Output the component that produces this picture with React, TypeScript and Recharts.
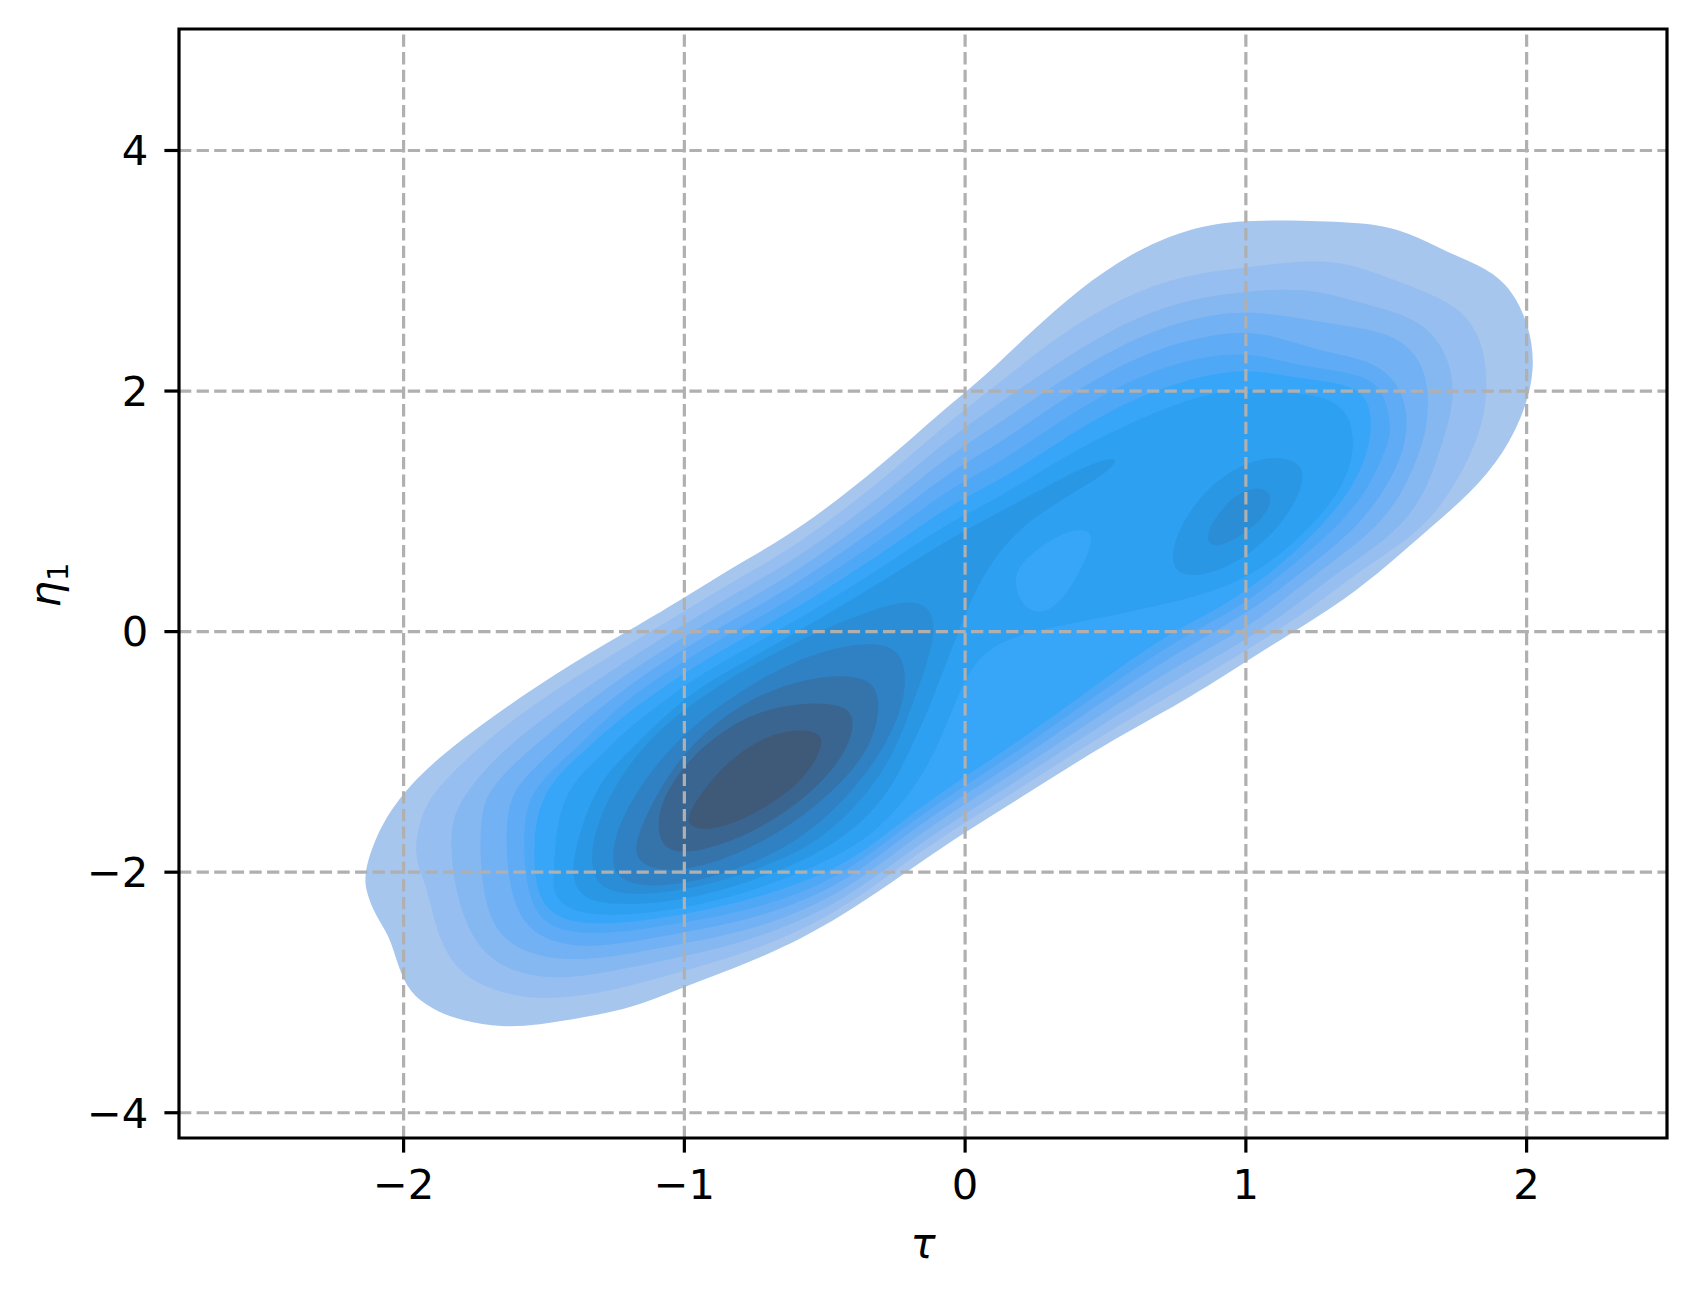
import React from 'react';
import { ScatterChart, Scatter, XAxis, YAxis, ReferenceLine, ReferenceArea } from 'recharts';

// KDE contour polygons (tau, eta1), outer -> inner
const L1 = [[-2.14,-2.0],[-2.10,-1.70],[-2.02,-1.38],[-1.88,-1.05],[-1.68,-0.70],[-1.46,-0.35],[-1.22,-0.02],[-1.0,0.28],[-0.84,0.52],[-0.64,0.78],[-0.45,1.10],[-0.26,1.46],[-0.08,1.84],[0.06,2.10],[0.22,2.46],[0.40,2.84],[0.60,3.16],[0.78,3.34],[0.96,3.42],[1.20,3.42],[1.44,3.40],[1.58,3.32],[1.72,3.15],[1.86,3.02],[1.95,2.84],[2.01,2.54],[2.03,2.21],[2.0,1.87],[1.92,1.48],[1.80,1.15],[1.66,0.87],[1.51,0.56],[1.35,0.26],[1.17,0.0],[1.0,-0.25],[0.78,-0.58],[0.50,-0.93],[0.20,-1.38],[-0.08,-1.78],[-0.45,-2.40],[-0.73,-2.72],[-1.0,-2.95],[-1.17,-3.12],[-1.36,-3.21],[-1.52,-3.27],[-1.65,-3.29],[-1.79,-3.24],[-1.90,-3.14],[-1.98,-3.0],[-2.02,-2.78],[-2.05,-2.53],[-2.10,-2.36],[-2.135,-2.16]];
const L2 = [[-1.96,-1.90],[-1.954,-1.672],[-1.92,-1.42],[-1.84,-1.20],[-1.68,-0.85],[-1.46,-0.48],[-1.22,-0.14],[-1.0,0.17],[-0.84,0.40],[-0.64,0.66],[-0.45,0.98],[-0.26,1.33],[-0.05,1.76],[0.128,2.08],[0.345,2.484],[0.563,2.788],[0.781,2.969],[0.999,3.024],[1.217,3.093],[1.363,3.066],[1.508,2.941],[1.653,2.816],[1.77,2.678],[1.842,2.428],[1.864,2.068],[1.842,1.652],[1.73,1.15],[1.617,0.82],[1.40,0.50],[1.24,0.20],[1.0,-0.16],[0.78,-0.47],[0.5,-0.84],[0.2,-1.30],[-0.08,-1.70],[-0.257,-2.00],[-0.45,-2.33],[-0.73,-2.64],[-1.0,-2.82],[-1.273,-3.00],[-1.477,-3.06],[-1.613,-3.03],[-1.749,-2.92],[-1.831,-2.753],[-1.886,-2.476],[-1.913,-2.144]];
const L3 = [[-1.831,-1.84],[-1.831,-1.535],[-1.75,-1.25],[-1.64,-0.97],[-1.44,-0.61],[-1.22,-0.26],[-1.0,0.06],[-0.84,0.29],[-0.64,0.55],[-0.45,0.86],[-0.26,1.20],[-0.05,1.62],[0.128,1.91],[0.345,2.262],[0.563,2.567],[0.781,2.761],[0.999,2.83],[1.217,2.858],[1.363,2.761],[1.508,2.678],[1.653,2.539],[1.726,2.262],[1.748,1.93],[1.69,1.50],[1.64,1.15],[1.537,0.821],[1.33,0.50],[1.17,0.20],[1.0,-0.07],[0.78,-0.36],[0.5,-0.75],[0.2,-1.22],[-0.08,-1.63],[-0.257,-1.93],[-0.45,-2.26],[-0.73,-2.55],[-1.0,-2.70],[-1.273,-2.836],[-1.464,-2.892],[-1.60,-2.836],[-1.709,-2.698],[-1.777,-2.449],[-1.818,-2.117]];
const L4 = [[-1.729,-1.839],[-1.722,-1.451],[-1.68,-1.28],[-1.6,-1.08],[-1.42,-0.72],[-1.22,-0.37],[-1.0,-0.04],[-0.84,0.18],[-0.64,0.44],[-0.45,0.75],[-0.26,1.07],[-0.05,1.48],[0.128,1.74],[0.345,2.096],[0.563,2.40],[0.781,2.594],[0.999,2.678],[1.217,2.595],[1.363,2.539],[1.508,2.484],[1.61,2.318],[1.653,2.04],[1.646,1.708],[1.62,1.50],[1.56,1.15],[1.45,0.82],[1.26,0.50],[1.10,0.20],[1.0,0.03],[0.78,-0.25],[0.5,-0.66],[0.2,-1.14],[-0.08,-1.55],[-0.257,-1.85],[-0.45,-2.19],[-0.73,-2.47],[-1.0,-2.59],[-1.30,-2.73],[-1.49,-2.726],[-1.613,-2.615],[-1.681,-2.449],[-1.716,-2.171]];
const L5 = [[-1.634,-1.894],[-1.634,-1.506],[-1.60,-1.30],[-1.55,-1.17],[-1.40,-0.83],[-1.22,-0.48],[-1.0,-0.14],[-0.84,0.08],[-0.64,0.34],[-0.45,0.64],[-0.26,0.95],[-0.05,1.34],[0.128,1.57],[0.345,1.93],[0.563,2.234],[0.781,2.428],[0.999,2.511],[1.145,2.428],[1.29,2.317],[1.435,2.262],[1.537,2.096],[1.58,1.819],[1.566,1.50],[1.49,1.15],[1.377,0.82],[1.20,0.50],[1.04,0.20],[0.78,-0.14],[0.5,-0.56],[0.2,-1.06],[-0.08,-1.47],[-0.257,-1.77],[-0.45,-2.12],[-0.73,-2.38],[-1.0,-2.50],[-1.30,-2.63],[-1.45,-2.601],[-1.559,-2.476],[-1.613,-2.227]];
const L6 = [[-1.572,-1.95],[-1.572,-1.506],[-1.53,-1.30],[-1.46,-1.12],[-1.36,-0.92],[-1.22,-0.58],[-1.0,-0.24],[-0.84,-0.02],[-0.64,0.24],[-0.45,0.53],[-0.26,0.83],[-0.05,1.20],[0.128,1.41],[0.345,1.763],[0.563,2.068],[0.781,2.262],[0.999,2.331],[1.145,2.234],[1.29,2.179],[1.44,2.12],[1.50,1.95],[1.52,1.652],[1.495,1.50],[1.43,1.15],[1.304,0.82],[1.14,0.50],[0.98,0.20],[0.78,-0.03],[0.5,-0.47],[0.2,-0.98],[-0.08,-1.40],[-0.257,-1.70],[-0.45,-2.05],[-0.73,-2.30],[-1.0,-2.42],[-1.30,-2.53],[-1.477,-2.476],[-1.545,-2.283]];
const L7 = [[-1.538,-1.95],[-1.532,-1.506],[-1.46,-1.20],[-1.34,-0.96],[-1.22,-0.70],[-1.0,-0.34],[-0.84,-0.12],[-0.64,0.14],[-0.45,0.42],[-0.26,0.71],[-0.05,1.06],[0.128,1.26],[0.345,1.597],[0.563,1.902],[0.781,2.096],[0.999,2.193],[1.145,2.12],[1.30,2.08],[1.42,2.01],[1.45,1.80],[1.44,1.50],[1.37,1.15],[1.246,0.82],[1.10,0.50],[0.9,0.18],[0.72,-0.02],[0.49,-0.40],[0.2,-0.90],[-0.09,-1.34],[-0.257,-1.64],[-0.45,-1.98],[-0.73,-2.21],[-1.0,-2.36],[-1.30,-2.45],[-1.45,-2.393],[-1.518,-2.227]];
const L8 = [[-1.465,-2.0],[-1.455,-1.56],[-1.40,-1.25],[-1.30,-1.04],[-1.22,-0.84],[-1.0,-0.44],[-0.84,-0.22],[-0.64,0.04],[-0.45,0.31],[-0.26,0.59],[-0.05,0.92],[0.128,1.12],[0.345,1.45],[0.563,1.708],[0.781,1.93],[0.999,2.04],[1.145,1.985],[1.29,1.957],[1.377,1.80],[1.39,1.45],[1.32,1.10],[1.20,0.80],[1.06,0.52],[0.90,0.34],[0.70,0.22],[0.45,0.10],[0.22,0.0],[0.05,-0.16],[-0.03,-0.55],[-0.10,-0.98],[-0.19,-1.34],[-0.33,-1.70],[-0.50,-1.92],[-0.73,-2.14],[-1.0,-2.31],[-1.30,-2.38],[-1.43,-2.30],[-1.47,-2.15]];
const SADDLE = [[0.17,0.433],[0.206,0.60],[0.337,0.821],[0.432,0.863],[0.467,0.766],[0.36,0.267],[0.266,0.128],[0.20,0.22]];
const L9A = [[-1.41,-2.0],[-1.36,-1.56],[-1.30,-1.25],[-1.22,-1.04],[-1.0,-0.54],[-0.84,-0.32],[-0.64,-0.06],[-0.45,0.20],[-0.26,0.47],[-0.05,0.78],[0.128,1.0],[0.30,1.22],[0.45,1.40],[0.55,1.46],[0.52,1.34],[0.36,1.12],[0.20,0.88],[0.08,0.55],[0.0,0.15],[-0.07,-0.28],[-0.13,-0.65],[-0.20,-1.00],[-0.27,-1.34],[-0.40,-1.66],[-0.55,-1.88],[-0.75,-2.07],[-1.0,-2.24],[-1.25,-2.28],[-1.37,-2.22]];
const L9B = [[0.72,0.52],[0.76,0.88],[0.88,1.26],[1.06,1.47],[1.19,1.43],[1.215,1.26],[1.145,0.93],[1.0,0.60],[0.82,0.43]];
const L10A = [[-1.336,-2.005],[-1.325,-1.672],[-1.241,-1.23],[-1.087,-0.786],[-0.85,-0.40],[-0.62,-0.10],[-0.42,0.10],[-0.26,0.24],[-0.14,0.26],[-0.10,0.05],[-0.14,-0.30],[-0.18,-0.55],[-0.24,-0.95],[-0.34,-1.34],[-0.50,-1.70],[-0.62,-1.86],[-0.82,-2.05],[-1.08,-2.19],[-1.28,-2.18]];
const L10B = [[0.847,0.793],[0.942,1.126],[1.049,1.223],[1.102,1.126],[1.06,0.932],[0.966,0.766],[0.883,0.688]];
const L11 = [[-1.253,-1.70],[-1.17,-1.313],[-1.028,-0.897],[-0.85,-0.564],[-0.613,-0.232],[-0.375,-0.08],[-0.221,-0.121],[-0.203,-0.509],[-0.28,-0.953],[-0.423,-1.396],[-0.613,-1.784],[-0.874,-2.04],[-1.11,-2.14],[-1.265,-2.06]];
const L12 = [[-1.188,-1.894],[-1.158,-1.618],[-1.051,-1.146],[-0.909,-0.786],[-0.731,-0.509],[-0.518,-0.357],[-0.34,-0.371],[-0.298,-0.564],[-0.328,-0.953],[-0.47,-1.34],[-0.672,-1.70],[-0.909,-1.95],[-1.087,-2.005]];
const L13 = [[-1.099,-1.70],[-1.087,-1.396],[-0.969,-1.008],[-0.791,-0.703],[-0.613,-0.592],[-0.435,-0.592],[-0.387,-0.731],[-0.423,-1.008],[-0.541,-1.34],[-0.731,-1.645],[-0.909,-1.81],[-1.051,-1.853]];
const L14 = [[-0.986,-1.618],[-0.992,-1.506],[-0.85,-1.063],[-0.672,-0.814],[-0.518,-0.814],[-0.50,-0.953],[-0.589,-1.285],[-0.779,-1.562],[-0.921,-1.659]];

const LEVEL_COLORS = ['#a6c6ee', '#97bef0', '#85b7f1', '#72b1f3', '#5fabf5', '#4ea8f6', '#37a6f8', '#2da0f2', '#2a97e4', '#2b8dd5', '#2f81c3', '#3574aa', '#3a6590', '#3e5a78'];

const X_TICKS = [-2, -1, 0, 1, 2];
const Y_TICKS = [-4, -2, 0, 2, 4];
const X_DOMAIN = [-2.8, 2.5];
const Y_DOMAIN = [-4.21, 5.01];

const layers: { id: string; pts: number[][]; color: string }[] = [
  { id: 'l1', pts: L1, color: LEVEL_COLORS[0] },
  { id: 'l2', pts: L2, color: LEVEL_COLORS[1] },
  { id: 'l3', pts: L3, color: LEVEL_COLORS[2] },
  { id: 'l4', pts: L4, color: LEVEL_COLORS[3] },
  { id: 'l5', pts: L5, color: LEVEL_COLORS[4] },
  { id: 'l6', pts: L6, color: LEVEL_COLORS[5] },
  { id: 'l7', pts: L7, color: LEVEL_COLORS[6] },
  { id: 'l8', pts: L8, color: LEVEL_COLORS[7] },
  { id: 'saddle', pts: SADDLE, color: LEVEL_COLORS[6] },
  { id: 'l9a', pts: L9A, color: LEVEL_COLORS[8] },
  { id: 'l9b', pts: L9B, color: LEVEL_COLORS[8] },
  { id: 'l10a', pts: L10A, color: LEVEL_COLORS[9] },
  { id: 'l10b', pts: L10B, color: LEVEL_COLORS[9] },
  { id: 'l11', pts: L11, color: LEVEL_COLORS[10] },
  { id: 'l12', pts: L12, color: LEVEL_COLORS[11] },
  { id: 'l13', pts: L13, color: LEVEL_COLORS[12] },
  { id: 'l14', pts: L14, color: LEVEL_COLORS[13] },
];

const toPts = (a: number[][]) => a.map(([x, y]) => ({ x, y }));
const NoDot = () => <g />;
const fmt = (v: number) => (v < 0 ? '\u2212' + Math.abs(v) : String(v));

const FONT = 'DejaVu Sans';
const FS = 41.7;

const YLabel = () => (
  <text transform="translate(52,577) rotate(-90)" textAnchor="middle" fontFamily={FONT} fontSize={FS} fill="#000">
    <tspan fontStyle="italic">η</tspan>
    <tspan fontSize={29} dy={8}>1</tspan>
  </text>
);

export default function App() {
  return (
    <div style={{ width: 1681, height: 1282 }}>
      <ScatterChart width={1681} height={1282} margin={{ top: 21, right: 22, bottom: 0, left: 0 }} style={{ fontFamily: FONT }}>
        <XAxis
          type="number"
          dataKey="x"
          domain={X_DOMAIN}
          allowDataOverflow
          ticks={X_TICKS}
          interval={0}
          tickFormatter={fmt}
          height={152}
          axisLine={false}
          tickLine={{ stroke: '#000', strokeWidth: 3.2 }}
          tickSize={14.6}
          tickMargin={17}
          tick={{ fill: '#000', fontSize: FS, fontFamily: FONT }}
          label={{ value: 'τ', position: 'insideBottom', offset: 32, fill: '#000', fontSize: FS, fontFamily: FONT, fontStyle: 'italic' }}
        />
        <YAxis
          type="number"
          dataKey="y"
          domain={Y_DOMAIN}
          allowDataOverflow
          ticks={Y_TICKS}
          interval={0}
          tickFormatter={fmt}
          width={171}
          axisLine={false}
          tickLine={{ stroke: '#000', strokeWidth: 3.2 }}
          tickSize={14.6}
          tickMargin={16}
          tick={{ fill: '#000', fontSize: FS, fontFamily: FONT }}
          label={YLabel}
        />
        {layers.map((l) => (
          <Scatter
            key={l.id}
            data={toPts(l.pts)}
            fill={l.color}
            line={{ fill: l.color, stroke: 'none' }}
            lineJointType="basisClosed"
            shape={NoDot}
            isAnimationActive={false}
          />
        ))}
        {X_TICKS.map((t) => (
          <ReferenceLine key={'gx' + t} x={t} stroke="#b0b0b0" strokeWidth={3.2} strokeDasharray="12.3 5.3" zIndex={700} />
        ))}
        {Y_TICKS.map((t) => (
          <ReferenceLine key={'gy' + t} y={t} stroke="#b0b0b0" strokeWidth={3.2} strokeDasharray="12.3 5.3" zIndex={700} />
        ))}
        <ReferenceArea
          x1={X_DOMAIN[0]}
          x2={X_DOMAIN[1]}
          y1={Y_DOMAIN[0]}
          y2={Y_DOMAIN[1]}
          fill="none"
          fillOpacity={0}
          stroke="#000"
          strokeWidth={3.2}
          ifOverflow="visible"
          zIndex={800}
        />
      </ScatterChart>
    </div>
  );
}
